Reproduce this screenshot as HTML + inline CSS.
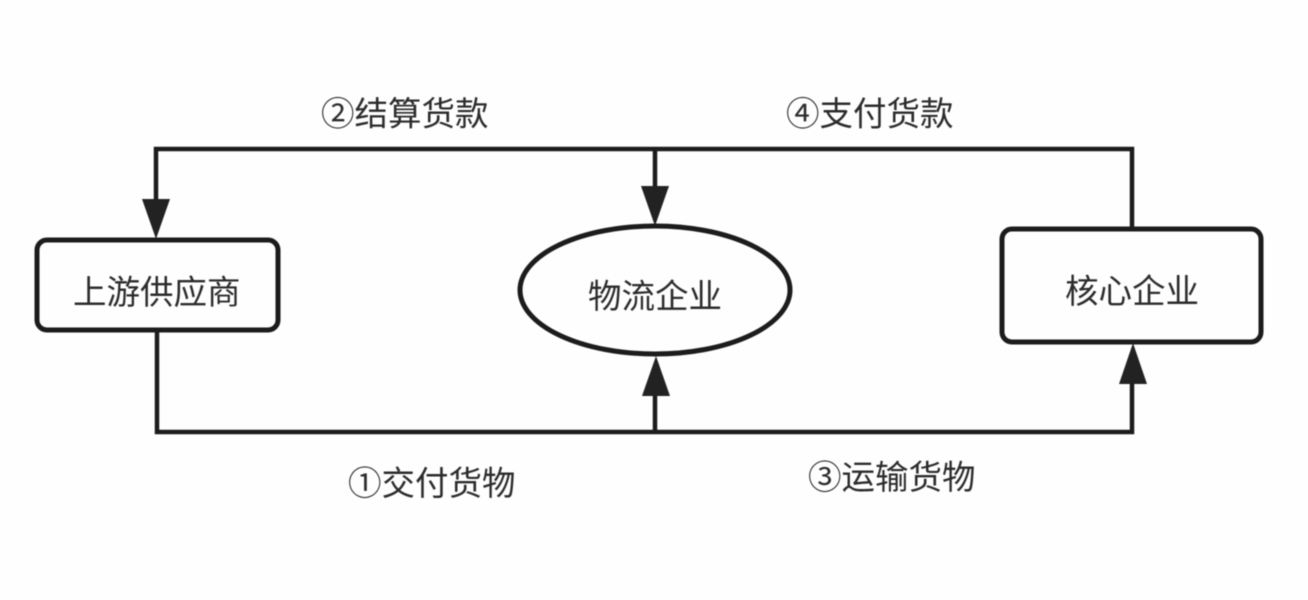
<!DOCTYPE html>
<html>
<head>
<meta charset="utf-8">
<style>
html,body{margin:0;padding:0;background:#fefefe;width:1308px;height:600px;overflow:hidden}
svg{display:block;filter:blur(.6px)}
text{font-family:"Liberation Sans","Noto Sans CJK SC",sans-serif;fill:#2c2c2c;font-size:33.5px}
</style>
</head>
<body>
<svg width="1308" height="600" viewBox="0 0 1308 600" xmlns="http://www.w3.org/2000/svg">
<rect width="1308" height="600" fill="#fefefe"/>
<g fill="none" stroke="#1c1c1c" stroke-width="4.5">
<path d="M156 203V149H1132V229"/>
<path d="M655 149V190"/>
<path d="M157 331V432H1132V380"/>
<path d="M655 432V392"/>
<rect x="37" y="240" width="241" height="90" rx="10" stroke-width="5"/>
<rect x="1002" y="229" width="259" height="113" rx="10" stroke-width="5"/>
<ellipse cx="655" cy="290" rx="135" ry="64" stroke-width="5"/>
</g>
<g fill="#222">
<polygon points="142,199 170,199 156,239"/>
<polygon points="641,186 669,186 655,226"/>
<polygon points="642,396 670,396 656,356"/>
<polygon points="1119,384 1147,384 1133,343"/>
</g>
<text x="73" y="304">上游供应商</text>
<text x="588" y="308">物流企业</text>
<text x="1065" y="303">核心企业</text>
<text x="321" y="125.500">②结算货款</text>
<text x="786" y="125.500">④支付货款</text>
<text x="348" y="495">①交付货物</text>
<text x="808" y="489">③运输货物</text>
</svg>
</body>
</html>
